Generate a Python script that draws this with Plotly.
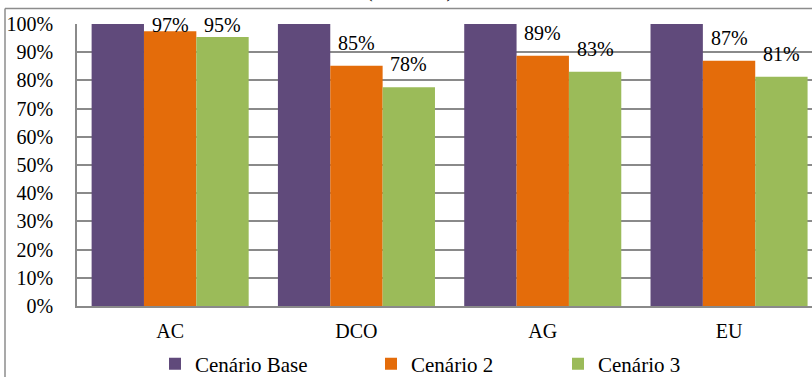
import plotly.graph_objects as go

# ---- data -------------------------------------------------------------
categories = ["AC", "DCO", "AG", "EU"]
cenario_base = [1.00, 1.00, 1.00, 1.00]
cenario_2 = [0.974, 0.852, 0.887, 0.870]
cenario_3 = [0.954, 0.776, 0.831, 0.813]
series_names = ["Cenário Base", "Cenário 2", "Cenário 3"]
y_ticks = [i / 10 for i in range(11)]

# ---- styling / geometry ----------------------------------------------
COLORS = ["#604A7B", "#E46C0A", "#9BBB59"]
FONT = "Liberation Serif"
GRID = "#8a8a8a"
W, H = 812, 377
PL, PR, PT, PB = 77, 812, 24, 306          # plot area in pixels
PLOT_W, PLOT_H = PR - PL, PB - PT
CAT_STEP = 186.3                            # pixel pitch of one category


def px_x(px):
    return (px - PL) / PLOT_W


def px_y(py):
    return (PB - py) / PLOT_H


fig = go.Figure()
all_series = [cenario_base, cenario_2, cenario_3]
for name, vals, col, leg in zip(series_names, all_series, COLORS,
                                ["legend", "legend2", "legend3"]):
    fig.add_trace(go.Bar(
        x=categories, y=vals, name=name,
        marker=dict(color=col, line=dict(width=0)),
        legend=leg, showlegend=True,
    ))

# value labels above the two scenario bars, kept inside the chart area
LABEL_LIFT = 23 / PLOT_H
LABEL_CEIL = px_y(25)
bar_px = (1 - 0.157) * CAT_STEP / 3
for k, vals in ((1, cenario_2), (2, cenario_3)):
    for cat, v in zip(categories, vals):
        fig.add_annotation(
            x=cat, y=min(v + LABEL_LIFT, LABEL_CEIL), xref="x", yref="y",
            xshift=(k - 1) * bar_px, yanchor="middle",
            text=f"{round(v * 100)}%", showarrow=False,
            font=dict(family=FONT, size=20, color="black"),
        )

# caption of the figure above the chart frame
fig.add_annotation(
    x=px_x(412), y=px_y(4), xref="paper", yref="paper",
    yanchor="bottom", text="(cenário 3).", showarrow=False,
    font=dict(family=FONT, size=20, color="black"),
)

# chart frame (top and left edges)
frame = dict(color="#8c8c8c", width=1.5)
fig.add_shape(type="line", xref="paper", yref="paper",
              x0=px_x(5), x1=px_x(812), y0=px_y(8.5), y1=px_y(8.5), line=frame)
fig.add_shape(type="line", xref="paper", yref="paper",
              x0=px_x(5), x1=px_x(5), y0=px_y(8.5), y1=px_y(377), line=frame)

legend_common = dict(
    orientation="h", xref="container", yref="container",
    xanchor="left", yanchor="middle", bgcolor="rgba(0,0,0,0)",
    font=dict(family=FONT, size=21, color="black"),
)
fig.update_layout(
    width=W, height=H,
    margin=dict(l=PL, r=W - PR, t=PT, b=H - PB, pad=0, autoexpand=False),
    paper_bgcolor="white", plot_bgcolor="white",
    barmode="group", bargap=0.157, bargroupgap=0,
    showlegend=True,
    font=dict(family=FONT, size=20, color="black"),
    legend=dict(x=155 / W, y=1 - 364 / H, **legend_common),
    legend2=dict(x=371 / W, y=1 - 364 / H, **legend_common),
    legend3=dict(x=558 / W, y=1 - 364 / H, **legend_common),
    xaxis=dict(
        type="category", range=[-0.5, -0.5 + PLOT_W / CAT_STEP],
        showgrid=False, showline=True, linecolor=GRID, linewidth=1.5,
        ticks="", ticklabelstandoff=6,
        tickfont=dict(family=FONT, size=20, color="black"),
    ),
    yaxis=dict(
        range=[0, 1], tickvals=y_ticks, tickformat=".0%",
        showgrid=True, gridcolor=GRID, gridwidth=1.5,
        showline=True, linecolor=GRID, linewidth=1.5,
        zeroline=False, ticks="", ticklabelstandoff=18,
        tickfont=dict(family=FONT, size=20, color="black"),
    ),
)

fig.write_html("out.html")
